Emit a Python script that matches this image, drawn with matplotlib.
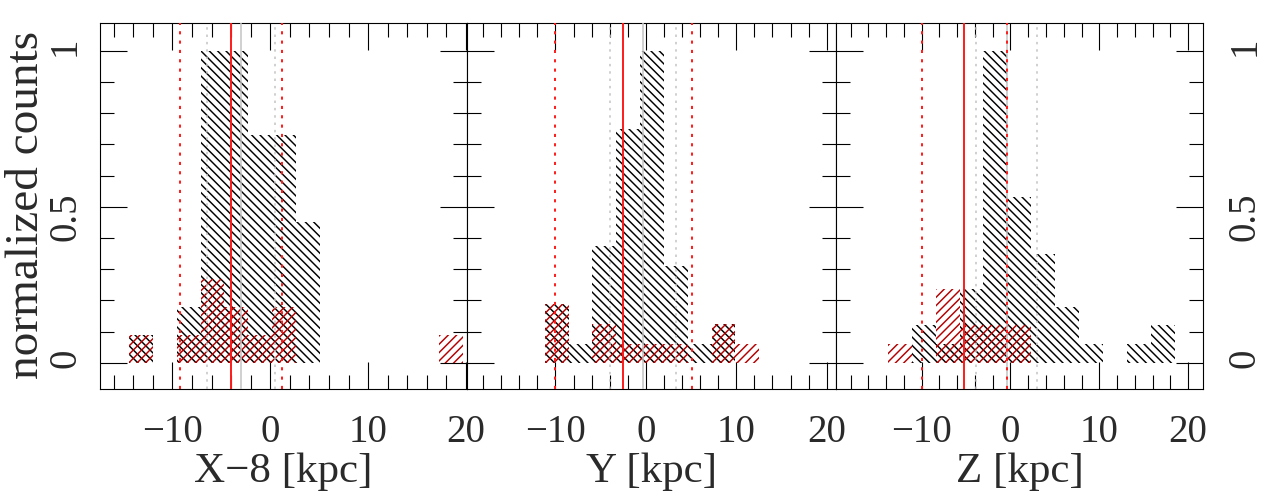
import numpy as np
import matplotlib.pyplot as plt
from matplotlib.ticker import MultipleLocator

plt.rcParams['font.family'] = ['Liberation Serif', 'DejaVu Serif']
plt.rcParams['hatch.linewidth'] = 1.05
plt.rcParams['text.color'] = '#2a2a2a'

# histogram bin edges (kpc) for X-8, Y, Z
edges_x = [-14.44, -12.00, -9.56, -7.12, -4.68, -2.24, 0.20, 2.64, 5.08,
           7.52, 9.96, 12.40, 14.84, 17.28, 19.72]
edges_y = [-11.18, -8.54, -5.91, -3.27, -0.64, 2.00, 4.64, 7.27, 9.91, 12.54]
edges_z = [-13.80, -11.11, -8.42, -5.73, -3.04, -0.35, 2.34, 5.04, 7.73,
           10.42, 13.11, 15.80, 18.49]

# normalized counts, full sample (black) and subsample (red)
all_x = [0.09, 0, 0.18, 1.0, 1.0, 0.73, 0.73, 0.45, 0, 0, 0, 0, 0, 0]
sub_x = [0.09, 0, 0.09, 0.27, 0.18, 0.09, 0.18, 0, 0, 0, 0, 0, 0, 0.09]
all_y = [0.19, 0.06, 0.375, 0.75, 1.0, 0.31, 0.06, 0.125, 0]
sub_y = [0.19, 0, 0.125, 0.06, 0.06, 0.06, 0, 0.125, 0.06]
all_z = [0, 0.12, 0.06, 0.235, 1.0, 0.53, 0.35, 0.18, 0.06, 0, 0.06, 0.12]
sub_z = [0.06, 0, 0.235, 0.12, 0.12, 0.12, 0, 0, 0, 0, 0, 0]

# median and spread markers: subsample (red), full sample (grey)
red_mid = [-4.0, -2.55, -5.24]
red_lo = [-9.25, -10.0, -10.0]
red_hi = [1.2, 5.05, -0.43]
grey_mid = [-2.95, -0.3, -0.43]
grey_lo = [-6.45, -3.97, -3.92]
grey_hi = [0.5, 3.33, 3.02]

xlabels = ['X\u22128 [kpc]', 'Y [kpc]', 'Z [kpc]']
xlims = [(-17.4, 20.1), (-19.78, 21.03), (-19.65, 21.68)]

W, H = 1265, 496
fig = plt.figure(figsize=(W / 100, H / 100), dpi=100)

boxes = [(100, 467), (467, 836), (836, 1203)]
top, bot = 22.7, 389.3

edges = [edges_x, edges_y, edges_z]
alls = [all_x, all_y, all_z]
subs = [sub_x, sub_y, sub_z]

red = '#ff1a1a'
dark_red = '#b40000'
grey = '#c4c4c4'
dots = (0, (1.6, 3.2))

for i in range(3):
    l, r = boxes[i]
    ax = fig.add_axes([l / W, 1 - bot / H, (r - l) / W, (bot - top) / H])
    e = np.array(edges[i])
    w = np.diff(e)
    ax.bar(e[:-1], alls[i], width=w, align='edge', fill=False,
           hatch='\\\\\\\\', edgecolor='black', linewidth=0, zorder=1)
    ax.bar(e[:-1], subs[i], width=w, align='edge', fill=False,
           hatch='////', edgecolor=dark_red, linewidth=0, zorder=2)

    ax.axvline(grey_mid[i], color=grey, lw=1.1, zorder=3)
    ax.axvline(grey_lo[i], color=grey, lw=1.1, ls=dots, zorder=3)
    ax.axvline(grey_hi[i], color=grey, lw=1.1, ls=dots, zorder=3)
    ax.axvline(red_mid[i], color=red, lw=1.4, zorder=4)
    ax.axvline(red_lo[i], color=red, lw=1.4, ls=dots, zorder=4)
    ax.axvline(red_hi[i], color=red, lw=1.4, ls=dots, zorder=4)

    ax.set_xlim(*xlims[i])
    ax.set_ylim(-0.085, 1.09)
    ax.set_xticks([-10, 0, 10, 20], labels=['\u221210', '0', '10', '20'])
    ax.set_yticks([0, 0.5, 1], labels=['0', '0.5', '1'])
    ax.xaxis.set_minor_locator(MultipleLocator(2))
    ax.yaxis.set_minor_locator(MultipleLocator(0.1))
    ax.tick_params(which='both', direction='in', top=True, right=True,
                   width=0.8, color='black', labelsize=28,
                   labelcolor='#2a2a2a')
    ax.tick_params(which='major', length=19.5)
    ax.tick_params(which='minor', length=10)
    ax.tick_params(axis='x', pad=18)
    ax.tick_params(axis='y', labelrotation=90)
    if i == 0:
        ax.tick_params(axis='y', pad=11.5)
    elif i == 1:
        ax.tick_params(axis='y', labelleft=False)
    else:
        ax.tick_params(axis='y', labelleft=False, labelright=True, pad=17)
    for s in ax.spines.values():
        s.set_linewidth(0.8)

    ax.text(0.5, (bot - 472) / (bot - top), xlabels[i], transform=ax.transAxes,
            ha='center', va='center', fontsize=31)

fig.text(26.5 / W, 1 - 205 / H, 'normalized counts', rotation=90,
         ha='center', va='center', fontsize=34)

fig.savefig('out.png', dpi=100)
